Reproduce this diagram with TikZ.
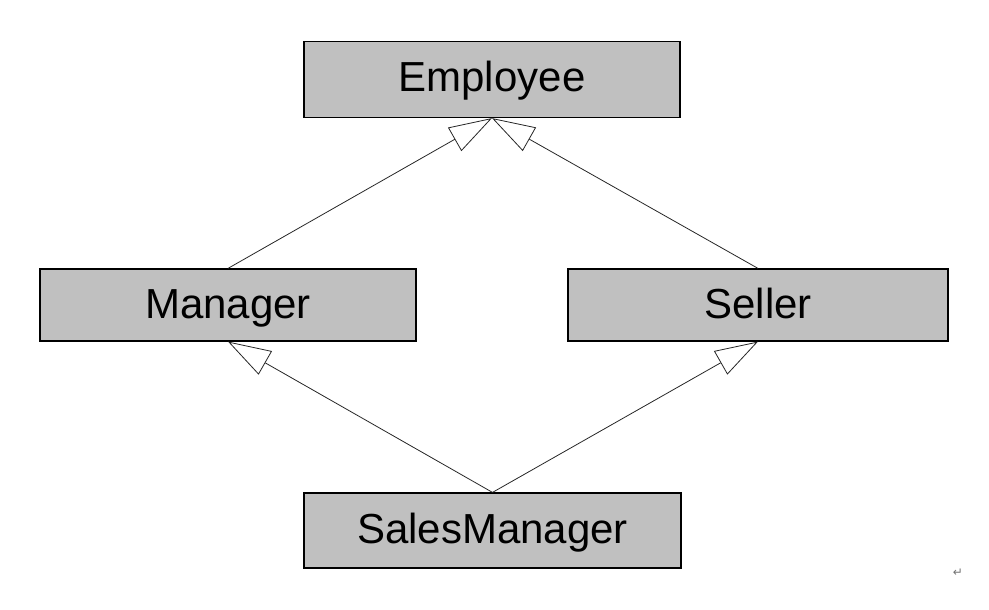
\documentclass[tikz,border=0pt]{standalone}
\usepackage{fontspec}
\setmainfont{Liberation Sans}
\newfontfamily\symfont{DejaVu Sans}
\usetikzlibrary{arrows.meta}
\definecolor{boxgray}{HTML}{C0C0C0}
\tikzset{
  classbox/.style={draw=black, line width=1.2pt, fill=boxgray, inner sep=0pt,
    font=\fontsize{42}{50}\selectfont},
  inherit/.style={draw=black!85, line width=0.8pt,
    -{Triangle[open, length=43pt, width=27pt, fill=white]}}
}
\begin{document}
\begin{tikzpicture}[x=1pt, y=-1pt]
\useasboundingbox (0,0) rectangle (989,610);
\node[classbox, minimum width=376pt, text height=50pt, text depth=26pt] (emp) at (492,79.5) {Employee};
\node[classbox, minimum width=376pt, text height=49pt, text depth=23pt] (mgr) at (228,305) {Manager};
\node[classbox, minimum width=380pt, text height=49pt, text depth=23pt] (sel) at (758,305) {Seller};
\node[classbox, minimum width=377pt, text height=50pt, text depth=25pt] (sm) at (492.5,530.5) {SalesManager};
\draw[inherit] (mgr.north) -- (emp.south);
\draw[inherit] (sel.north) -- (emp.south);
\draw[inherit] (sm.north) -- (mgr.south);
\draw[inherit] (sm.north) -- (sel.south);
\node[text=black!55, font=\symfont\fontsize{12}{13}\selectfont, inner sep=0pt] (ret) at (958,573) {↵};
\end{tikzpicture}
\end{document}
